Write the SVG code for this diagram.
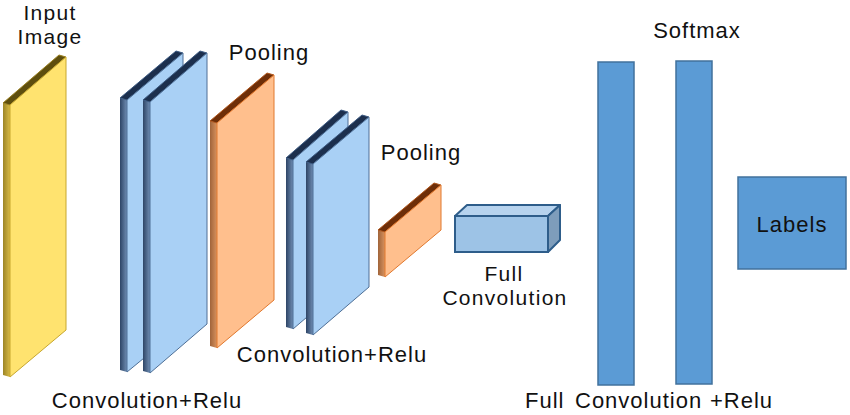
<svg xmlns="http://www.w3.org/2000/svg" width="850" height="415" viewBox="0 0 850 415">
<defs>
<linearGradient id="ySide" x1="0" y1="0" x2="1" y2="0"><stop offset="0" stop-color="#9C8526"/><stop offset="1" stop-color="#D8BA45"/></linearGradient>
<linearGradient id="bSide" x1="0" y1="0" x2="1" y2="0"><stop offset="0" stop-color="#2E4566"/><stop offset="1" stop-color="#6F8DB3"/></linearGradient>
<linearGradient id="oSide" x1="0" y1="0" x2="1" y2="0"><stop offset="0" stop-color="#A0643A"/><stop offset="1" stop-color="#D8925E"/></linearGradient>
</defs>
<style>
text{font-family:"Liberation Sans",Arial,sans-serif;font-size:22px;letter-spacing:1px;fill:#111;}
.mid{text-anchor:middle;}
.tight{font-size:21px;letter-spacing:1.3px;}
.yF{fill:#FFE36F;stroke:#C7A72E;stroke-width:1;}
.yS{fill:url(#ySide);}
.yT{fill:#5E4E0E;stroke:#9A8020;stroke-width:1;stroke-linejoin:round;}
.bF{fill:#A9D0F5;stroke:#4E6F96;stroke-width:1;}
.bS{fill:url(#bSide);}
.bT{fill:#1C2F4D;stroke:#3C5A82;stroke-width:1;stroke-linejoin:round;}
.oF{fill:#FFBF8D;stroke:#E0782E;stroke-width:1;}
.oS{fill:url(#oSide);}
.oT{fill:#6E2E08;stroke:#B0561C;stroke-width:1;stroke-linejoin:round;}
.bar{fill:#5B9BD5;stroke:#41719C;stroke-width:1.5;}
</style>
<rect width="850" height="415" fill="#fff"/>

<g id="input-image">
<polygon class="yS" points="10,105 10,377 3,375 3,103"/>
<polygon class="yT" points="10,105 66,57 59,55 3,103"/>
<polygon class="yF" points="10,105 66,57 66,330 10,377"/>
<text class="mid tight" x="50" y="20">Input</text>
<text class="mid tight" x="50" y="43.5">Image</text>
</g>

<g id="conv1a">
<polygon class="bS" points="127,100 127,372 120,370 120,98"/>
<polygon class="bT" points="127,100 183,53 176,51 120,98"/>
<polygon class="bF" points="127,100 183,53 183,326 127,372"/>
</g>
<g id="conv1b">
<polygon class="bS" points="150,102 150,373 143,371 143,100"/>
<polygon class="bT" points="150,102 207,53 200,51 143,100"/>
<polygon class="bF" points="150,102 207,53 207,324 150,373"/>
</g>
<text id="label-conv1" class="mid" x="147" y="408">Convolution+Relu</text>

<g id="pool1">
<polygon class="oS" points="217,123 217,348 210,346 210,121"/>
<polygon class="oT" points="217,123 274,75 267,73 210,121"/>
<polygon class="oF" points="217,123 274,75 274,300 217,348"/>
<text class="mid" x="269" y="60">Pooling</text>
</g>

<g id="conv2a">
<polygon class="bS" points="293,160 293,329 286,327 286,158"/>
<polygon class="bT" points="293,160 348,112 341,110 286,158"/>
<polygon class="bF" points="293,160 348,112 348,282 293,329"/>
</g>
<g id="conv2b">
<polygon class="bS" points="313,164 313,335 306,333 306,162"/>
<polygon class="bT" points="313,164 369,117 362,115 306,162"/>
<polygon class="bF" points="313,164 369,117 369,287 313,335"/>
</g>
<text id="label-conv2" class="mid" x="332" y="362">Convolution+Relu</text>

<g id="pool2">
<polygon class="oS" points="385,232 385,277 378,275 378,230"/>
<polygon class="oT" points="385,232 441,185 434,183 378,230"/>
<polygon class="oF" points="385,232 441,185 441,230 385,277"/>
<text class="mid" x="421" y="160">Pooling</text>
</g>

<g id="full-conv">
<polygon points="455,216 467,205 560,205 548,216" fill="#B7D3EE" stroke="#2E5D8A" stroke-width="2" stroke-linejoin="round"/>
<polygon points="548,216 560,205 560,240 548,252" fill="#7E9DBB" stroke="#2E5D8A" stroke-width="2" stroke-linejoin="round"/>
<rect x="455" y="216" width="93" height="36" fill="#9DC3E6" stroke="#2E5D8A" stroke-width="2"/>
<text class="mid tight" x="504" y="281">Full</text>
<text class="mid tight" x="505" y="304.5">Convolution</text>
</g>

<g id="fc1">
<rect class="bar" x="598" y="62" width="36" height="323"/>
</g>
<g id="fc2">
<rect class="bar" x="676" y="61" width="36" height="323"/>
<text class="mid" x="697" y="38">Softmax</text>
</g>
<text id="label-fc"><tspan x="525" y="408">Full</tspan><tspan x="575" y="408">Convolution</tspan><tspan x="710" y="408">+Relu</tspan></text>

<g id="labels">
<rect class="bar" x="738" y="177" width="108" height="92"/>
<text class="mid" x="792" y="232">Labels</text>
</g>
</svg>
